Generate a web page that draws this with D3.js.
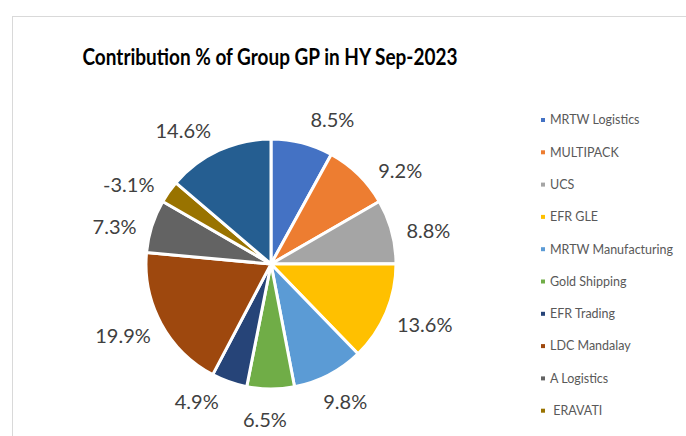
<!DOCTYPE html>
<html>
<head>
<meta charset="utf-8">
<script src="https://cdn.jsdelivr.net/npm/d3@7"></script>
<style>
  body { margin: 0; background: #fff; }
  svg { display: block; }
  text { font-family: Lato, "Open Sans", sans-serif; }
</style>
</head>
<body>
<svg id="chart"></svg>
<script>
// Segment names (the 11th legend entry falls below the visible area in the original)
const names = ["MRTW Logistics", "MULTIPACK", "UCS", "EFR GLE", "MRTW Manufacturing",
  "Gold Shipping", "EFR Trading", "LDC Mandalay", "A Logistics", " ERAVATI", "Others"];

// Contribution % values
const values = [8.5, 9.2, 8.8, 13.6, 9.8, 6.5, 4.9, 19.9, 7.3, -3.1, 14.6];

const colors = ["#4472C4", "#ED7D31", "#A5A5A5", "#FFC000", "#5B9BD5", "#70AD47",
  "#264478", "#9E480E", "#636363", "#997300", "#255E91"];

const titleText = "Contribution % of Group GP in HY Sep-2023";

// small angle nudges (degrees) so labels sit like Excel placed them
const labelShift = [8, 9, 3, 0, 0, 2, 8, 1, -4, -5, -7];

const width = 686, height = 436;
const cx = 271, cy = 264, radius = 125;

const svg = d3.select("#chart")
  .attr("width", width)
  .attr("height", height);

// chart area border
svg.append("rect")
  .attr("x", 12.5).attr("y", 16.5)
  .attr("width", 700).attr("height", 500)
  .attr("fill", "#fff")
  .attr("stroke", "#d9d9d9")
  .attr("stroke-width", 1);

// title
svg.append("text")
  .attr("x", 270).attr("y", 65)
  .attr("text-anchor", "middle")
  .attr("textLength", 375)
  .attr("lengthAdjust", "spacingAndGlyphs")
  .style("font-size", "23px")
  .style("font-weight", "bold")
  .attr("fill", "#000")
  .text(titleText);

const data = names.map((n, i) => ({name: n, value: values[i], color: colors[i], shift: labelShift[i]}));

// Excel pie uses absolute values for the slice sizes
const pie = d3.pie().sort(null).value(d => Math.abs(d.value));
const arcs = pie(data);

const arc = d3.arc().innerRadius(0).outerRadius(radius);

const pieG = svg.append("g").attr("transform", `translate(${cx},${cy})`);

pieG.selectAll("path")
  .data(arcs)
  .enter()
  .append("path")
  .attr("d", arc)
  .attr("fill", d => d.data.color)
  .attr("stroke", "#fff")
  .attr("stroke-width", 3)
  .attr("stroke-linejoin", "round");

// outside end labels
const fmt = v => d3.format(".1f")(v).replace("\u2212", "-") + "%";
pieG.selectAll("text.lbl")
  .data(arcs)
  .enter()
  .append("text")
  .attr("class", "lbl")
  .attr("dy", "0.35em")
  .attr("text-anchor", "middle")
  .style("font-size", "20px")
  .attr("fill", "#404040")
  .text(d => fmt(d.data.value))
  .each(function(d) {
    const w = this.getComputedTextLength();
    const a = (d.startAngle + d.endAngle) / 2 + d.data.shift * Math.PI / 180;
    const gap = radius + 14;
    d3.select(this)
      .attr("x", Math.sin(a) * (gap + w / 2))
      .attr("y", -Math.cos(a) * (gap + 17));
  });

// legend (only the entries visible in the frame)
const legendData = data.slice(0, 10);
const legendY = d3.scaleLinear().domain([0, 1]).range([120, 152.3]);
const items = svg.append("g").selectAll("g")
  .data(legendData)
  .enter()
  .append("g")
  .attr("transform", (d, i) => `translate(541,${legendY(i)})`);

items.append("rect")
  .attr("x", 0).attr("y", -2)
  .attr("width", 4).attr("height", 4)
  .attr("fill", d => d.color);

items.append("text")
  .attr("x", 9)
  .attr("dy", "0.35em")
  .style("font-size", "12.5px")
  .style("white-space", "pre")
  .attr("fill", "#595959")
  .text(d => d.name);
</script>
</body>
</html>
